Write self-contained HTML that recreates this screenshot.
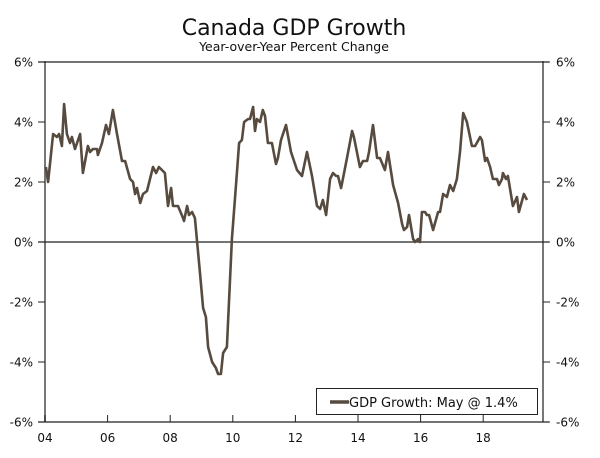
<!DOCTYPE html>
<html><head><meta charset="utf-8"><style>
body{margin:0;background:#fff;}
svg text{font-family:"DejaVu Sans","Liberation Sans",sans-serif;fill:#111;}
</style></head><body>
<svg id="chart" width="600" height="453" xmlns="http://www.w3.org/2000/svg">
<text x="294" y="35" font-size="22" text-anchor="middle">Canada GDP Growth</text>
<text x="294" y="51" font-size="12.5" text-anchor="middle">Year-over-Year Percent Change</text>
<g id="axes"></g>
<g id="series"></g>
<g>
<rect x="316.5" y="388.5" width="221" height="26" fill="#fff" stroke="#222" stroke-width="1"/>
<line x1="330" y1="402" x2="349" y2="402" stroke="#574a3f" stroke-width="3.5"/>
<text x="349" y="407" font-size="13">GDP Growth: May @ 1.4%</text>
</g>
</svg>
<script>
const years=[0.03,0.10,0.26,0.38,0.45,0.54,0.61,0.70,0.80,0.86,0.96,1.12,1.21,1.37,1.44,1.53,1.66,1.69,1.82,1.95,2.04,2.17,2.30,2.46,2.56,2.72,2.81,2.88,2.94,3.04,3.13,3.26,3.45,3.55,3.64,3.83,3.93,4.03,4.09,4.25,4.41,4.44,4.54,4.60,4.70,4.79,4.95,5.05,5.14,5.21,5.34,5.46,5.53,5.62,5.69,5.81,5.97,6.13,6.20,6.29,6.36,6.49,6.55,6.65,6.71,6.77,6.87,6.96,7.03,7.12,7.25,7.38,7.44,7.54,7.70,7.86,8.05,8.21,8.37,8.53,8.69,8.79,8.88,8.98,9.11,9.20,9.30,9.36,9.46,9.65,9.81,9.87,10.06,10.16,10.29,10.35,10.48,10.61,10.70,10.86,10.96,11.12,11.28,11.41,11.47,11.57,11.63,11.76,11.82,11.92,11.98,12.04,12.14,12.20,12.27,12.40,12.56,12.62,12.72,12.84,12.94,13.04,13.16,13.26,13.36,13.48,13.64,13.74,13.90,13.96,14.06,14.12,14.22,14.31,14.44,14.50,14.60,14.63,14.73,14.79,14.95,15.08,15.14,15.30,15.40];
const growth=[2.5,2.0,3.6,3.5,3.6,3.2,4.6,3.6,3.3,3.5,3.1,3.6,2.3,3.2,3.0,3.1,3.1,2.9,3.3,3.9,3.6,4.4,3.6,2.7,2.7,2.1,2.0,1.6,1.8,1.3,1.6,1.7,2.5,2.3,2.5,2.3,1.2,1.8,1.2,1.2,0.8,0.7,1.2,0.9,1.0,0.8,-1.0,-2.2,-2.5,-3.5,-4.0,-4.2,-4.4,-4.4,-3.7,-3.5,0.1,2.3,3.3,3.4,4.0,4.1,4.1,4.5,3.7,4.1,4.0,4.4,4.2,3.3,3.3,2.6,2.8,3.4,3.9,3.0,2.4,2.2,3.0,2.2,1.2,1.1,1.4,0.9,2.1,2.3,2.2,2.2,1.8,2.8,3.7,3.5,2.5,2.7,2.7,3.0,3.9,2.8,2.8,2.4,3.0,1.9,1.3,0.6,0.4,0.5,0.9,0.1,0.0,0.1,0.0,1.0,1.0,0.9,0.9,0.4,1.0,1.0,1.6,1.5,1.9,1.7,2.1,3.0,4.3,4.0,3.2,3.2,3.5,3.4,2.7,2.8,2.5,2.1,2.1,1.9,2.1,2.3,2.1,2.2,1.2,1.5,1.0,1.6,1.4];
const yTicks=[6,4,2,0,-2,-4,-6];
const yTickLabels=["6%","4%","2%","0%","-2%","-4%","-6%"];
const xTicks=[0,2,4,6,8,10,12,14,16,18];
const xTickLabels=["04","06","08","10","12","14","16","18"];
const L=45,R=543,T=61,B=422;
const x=v=>L+v*31.3;
const y=v=>242-v*30;
const NS="http://www.w3.org/2000/svg";
const ax=document.getElementById('axes');
function mk(tag,attrs,parent){const e=document.createElementNS(NS,tag);for(const k in attrs)e.setAttribute(k,attrs[k]);parent.appendChild(e);return e;}
let e=mk('line',{x1:L,y1:T,x2:L,y2:B,stroke:'#777','stroke-width':2},ax);


e=mk('line',{x1:R,y1:T,x2:R,y2:B,stroke:'#777','stroke-width':2},ax);


yTicks.forEach((v,i)=>{
  const yy=y(v);
  const g=mk('line',{x1:38,y1:yy,x2:549,y2:yy,stroke:'#222','stroke-width':(v===0||v===6||v===-6)?1.3:0},ax);
  
  
  const t1=mk('line',{x1:38,y1:yy,x2:L,y2:yy,stroke:'#222','stroke-width':1},ax);
  
  
  const t2=mk('line',{x1:R,y1:yy,x2:550,y2:yy,stroke:'#222','stroke-width':1},ax);
  
  
  const a=mk('text',{x:33,y:yy+4.5,'font-size':12,'text-anchor':'end'},ax);a.textContent=yTickLabels[i];
  
  
  const b=mk('text',{x:556,y:yy+4.5,'font-size':12},ax);b.textContent=yTickLabels[i];
  
  
});
xTicks.slice(0,8).forEach((v,i)=>{
  const xx=x(v);
  const t=mk('line',{x1:xx,y1:B-7,x2:xx,y2:B,stroke:'#222','stroke-width':1},ax);
  
  
  const a=mk('text',{x:xx,y:B+20,'font-size':12,'text-anchor':'middle'},ax);a.textContent=xTickLabels[i];
  
  
});
const d=years.map((v,i)=>(i?'L':'M')+x(v).toFixed(1)+','+y(growth[i]).toFixed(1)).join(' ');
const p=mk('path',{d:d,fill:'none',stroke:'#574a3f','stroke-width':2.6,'stroke-linejoin':'round'},document.getElementById('series'));


</script>
</body></html>
